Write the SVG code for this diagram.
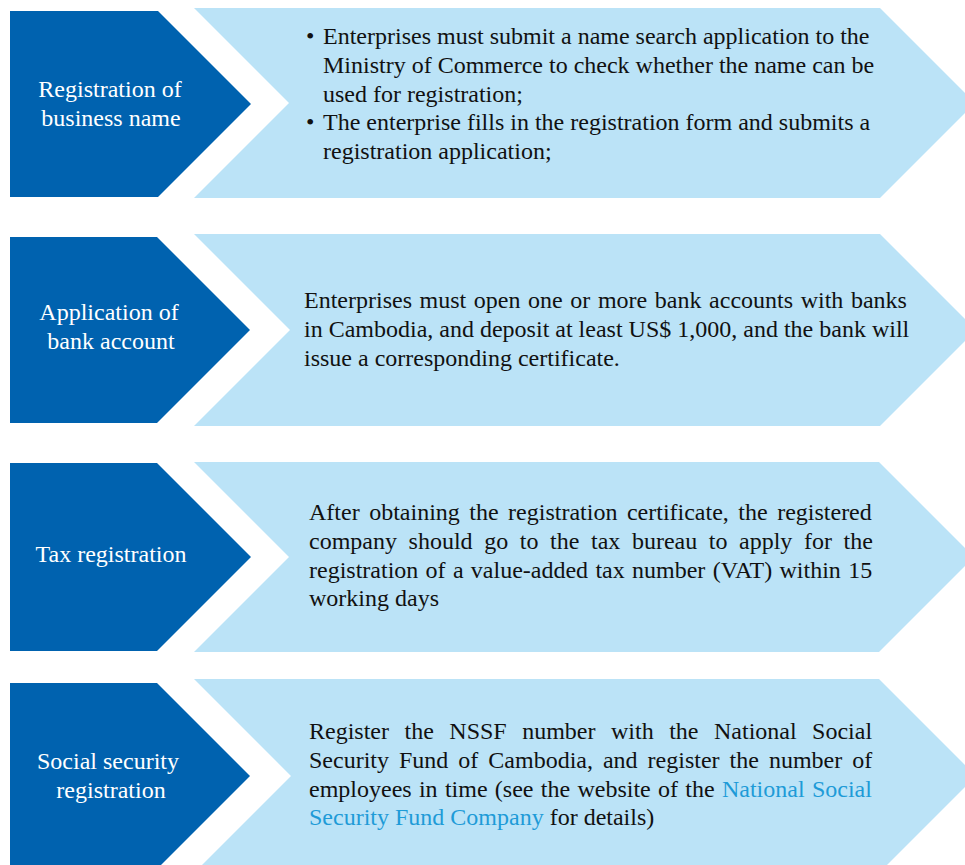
<svg xmlns="http://www.w3.org/2000/svg" width="965" height="865" viewBox="0 0 965 865">
<style>
.dark{fill:#0062AF}
.light{fill:#BBE3F7}
.lbl{font-family:"Liberation Serif","Times New Roman",serif;font-size:24px;fill:#FFFFFF;text-anchor:middle}
.txt{font-family:"Liberation Serif","Times New Roman",serif;font-size:24px;fill:#111111}
.link{fill:#1E9BD7}
</style>
<rect width="965" height="865" fill="#FFFFFF"/>
<g id="connectors"/>

<g id="step1-label">
<polygon class="dark" points="10,11 158,11 251,104 158,197 10,197"/>
<text class="lbl" x="110" y="97">Registration of</text>
<text class="lbl" x="111" y="126">business name</text>
</g>
<g id="step1-desc">
<polygon class="light" points="194,8 880,8 975,103 880,198 194,198 289,103"/>
<text class="txt" x="306" y="44">•</text>
<text class="txt" x="323" y="44">Enterprises must submit a name search application to the</text>
<text class="txt" x="323" y="73">Ministry of Commerce to check whether the name can be</text>
<text class="txt" x="323" y="102">used for registration;</text>
<text class="txt" x="306" y="130">•</text>
<text class="txt" x="323" y="130">The enterprise fills in the registration form and submits a</text>
<text class="txt" x="323" y="159">registration application;</text>
</g>

<g id="step2-label">
<polygon class="dark" points="10,237 157,237 250,330 157,423 10,423"/>
<text class="lbl" x="109" y="320">Application of</text>
<text class="lbl" x="111" y="349">bank account</text>
</g>
<g id="step2-desc">
<polygon class="light" points="194,234 880,234 976,330 880,426 194,426 290,330"/>
<text class="txt" x="304" y="308" word-spacing="1.6">Enterprises must open one or more bank accounts with banks</text>
<text class="txt" x="304" y="337">in Cambodia, and deposit at least US$ 1,000, and the bank will</text>
<text class="txt" x="304" y="366">issue a corresponding certificate.</text>
</g>

<g id="step3-label">
<polygon class="dark" points="10,463 157,463 251,557 157,651 10,651"/>
<text class="lbl" x="111" y="562">Tax registration</text>
</g>
<g id="step3-desc">
<polygon class="light" points="194,462 879,462 974,557 879,652 194,652 289,557"/>
<text class="txt" x="309" y="520" word-spacing="3.5">After obtaining the registration certificate, the registered</text>
<text class="txt" x="309" y="549" word-spacing="5.6">company should go to the tax bureau to apply for the</text>
<text class="txt" x="309" y="578" word-spacing="1.3">registration of a value-added tax number (VAT) within 15</text>
<text class="txt" x="309" y="606">working days</text>
</g>

<g id="step4-label">
<polygon class="dark" points="10,683 157,683 250,776 157,869 10,869"/>
<text class="lbl" x="108" y="769">Social security</text>
<text class="lbl" x="111" y="798">registration</text>
</g>
<g id="step4-desc">
<polygon class="light" points="194,679 879,679 976,776 879,873 194,873 291,776"/>
<text class="txt" x="309" y="739" word-spacing="9.5">Register the NSSF number with the National Social</text>
<text class="txt" x="309" y="768" word-spacing="4">Security Fund of Cambodia, and register the number of</text>
<text class="txt" x="309" y="797" word-spacing="1.3">employees in time (see the website of the <tspan class="link">National Social</tspan></text>
<text class="txt" x="309" y="825"><tspan class="link">Security Fund Company</tspan> for details)</text>
</g>
</svg>
